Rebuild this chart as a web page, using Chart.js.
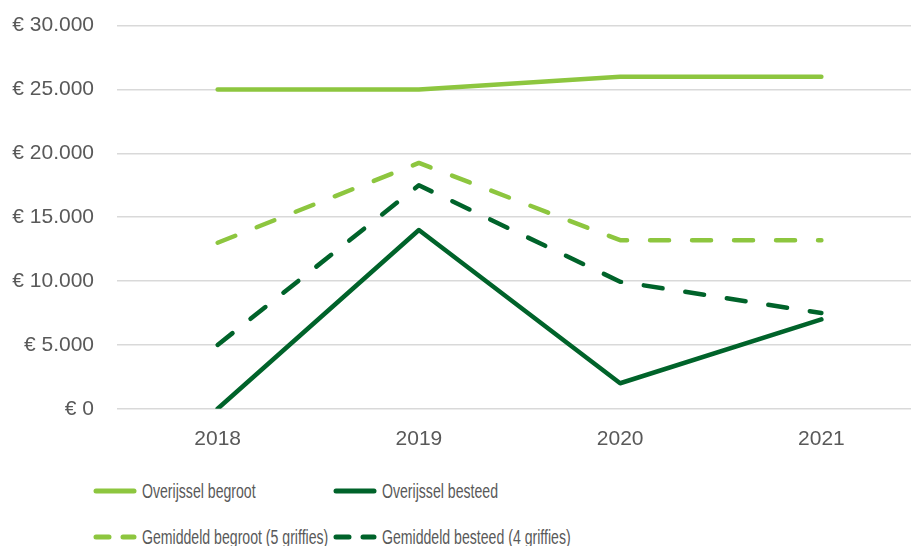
<!DOCTYPE html>
<html lang="nl">
<head>
    <meta charset="UTF-8">
    <title>Overijssel begroot en besteed</title>
    <script src="https://cdn.jsdelivr.net/npm/chart.js"></script>
    <style>
        html, body {
            margin: 0;
            padding: 0;
            background: #fff;
            overflow: hidden;
            width: 911px;
            height: 546px;
            font-family: "Liberation Sans", Arial, sans-serif;
        }
        .chart-container {
            position: absolute;
            left: 0;
            top: -10px;
            width: 922px;
            height: 483px;
        }
        .legend-item {
            position: absolute;
            display: flex;
            align-items: center;
            font-size: 20px;
            color: #595959;
            white-space: nowrap;
            height: 24px;
        }
        .legend-item svg {
            margin-right: 5px;
        }
        .legend-item span {
            display: inline-block;
            transform: scaleX(0.705);
            transform-origin: left center;
        }
    </style>
</head>
<body>
    <div class="chart-container">
        <canvas id="lineChart"></canvas>
    </div>
    <div id="legend"></div>

    <script>
        const years = ['2018', '2019', '2020', '2021'];
        const overijsselBegroot = [25000, 25000, 26000, 26000];
        const overijsselBesteed = [0, 14000, 2000, 7000];
        const gemiddeldBegroot = [13000, 19250, 13200, 13200];
        const gemiddeldBesteed = [5000, 17500, 9950, 7500];
        const yTicks = [0, 5000, 10000, 15000, 20000, 25000, 30000];

        const lightGreen = '#8DC63F';
        const darkGreen = '#00632A';
        const tickFont = { size: 21, family: '"Liberation Sans", Arial, sans-serif' };

        function euro(v) {
            return '€ ' + String(v).replace(/\B(?=(\d{3})+(?!\d))/g, '.');
        }

        const series = [
            { label: 'Overijssel begroot', data: overijsselBegroot, color: lightGreen, dash: [] },
            { label: 'Overijssel besteed', data: overijsselBesteed, color: darkGreen, dash: [] },
            { label: 'Gemiddeld begroot (5 griffies)', data: gemiddeldBegroot, color: lightGreen, dash: [19, 23] },
            { label: 'Gemiddeld besteed (4 griffies)', data: gemiddeldBesteed, color: darkGreen, dash: [19, 23] }
        ];

        const ctx = document.getElementById('lineChart').getContext('2d');
        new Chart(ctx, {
            type: 'line',
            data: {
                labels: years,
                datasets: series.map(s => ({
                    label: s.label,
                    data: s.data,
                    borderColor: s.color,
                    backgroundColor: s.color,
                    borderWidth: 4.5,
                    borderDash: s.dash,
                    borderCapStyle: 'round',
                    borderJoinStyle: 'round',
                    pointRadius: 0,
                    tension: 0,
                    fill: false
                }))
            },
            options: {
                responsive: true,
                maintainAspectRatio: false,
                animation: false,
                layout: { padding: { top: 5, left: 0, right: 0, bottom: 11 } },
                plugins: {
                    legend: { display: false },
                    tooltip: { enabled: false }
                },
                scales: {
                    x: {
                        offset: true,
                        grid: { display: false },
                        border: { display: false },
                        ticks: { color: '#595959', font: tickFont, padding: 10 }
                    },
                    y: {
                        min: 0,
                        max: 30000,
                        afterBuildTicks: axis => { axis.ticks = yTicks.map(v => ({ value: v })); },
                        afterFit: axis => { axis.width = 117; },
                        grid: { color: '#D9D9D9', lineWidth: 1.5, drawTicks: false },
                        border: { display: false },
                        ticks: {
                            color: '#595959',
                            font: tickFont,
                            padding: 23,
                            callback: v => euro(v)
                        }
                    }
                }
            }
        });

        // Legend in two rows, like the original
        const legendPos = [
            { x: 93, y: 479 },
            { x: 333, y: 479 },
            { x: 93, y: 525 },
            { x: 333, y: 525 }
        ];
        const legend = document.getElementById('legend');
        series.forEach((s, i) => {
            const item = document.createElement('div');
            item.className = 'legend-item';
            item.style.left = legendPos[i].x + 'px';
            item.style.top = legendPos[i].y + 'px';
            const dash = s.dash.length ? 'stroke-dasharray="13 14"' : '';
            item.innerHTML =
                '<svg width="44" height="10"><line x1="3" y1="5" x2="41" y2="5" stroke="' + s.color +
                '" stroke-width="5" stroke-linecap="round" ' + dash + '/></svg>' +
                '<span>' + s.label + '</span>';
            legend.appendChild(item);
        });
    </script>
</body>
</html>
